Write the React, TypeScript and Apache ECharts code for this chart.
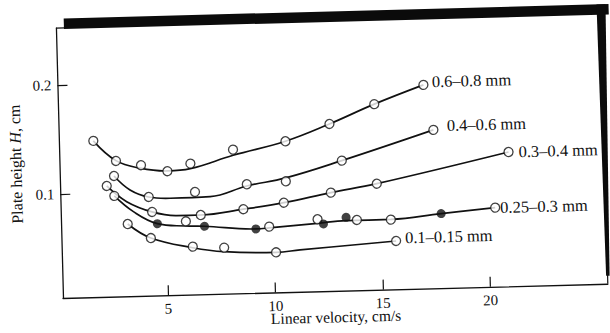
import React, { useEffect, useRef } from "react";
import * as echarts from "echarts";

// Axis ticks
const xTicks = [5, 10, 15, 20];
const yTicks = [0.1, 0.2];

// Particle-size series (labels)
const seriesNames = ["0.6–0.8 mm", "0.4–0.6 mm", "0.3–0.4 mm", "0.25–0.3 mm", "0.1–0.15 mm"];

// 0.6–0.8 mm
const open1 = [[1.71, 0.148], [2.74, 0.129], [3.9, 0.1245], [5.12, 0.1184], [6.2, 0.1248], [8.2, 0.1366], [10.65, 0.143], [12.72, 0.1578], [14.83, 0.1749], [17.14, 0.1914]];
const curve1 = [[1.71, 0.148], [2.74, 0.1293], [3.85, 0.1218], [5.12, 0.1186], [6.19, 0.1202], [8.2, 0.1314], [10.65, 0.143], [12.72, 0.1578], [14.83, 0.1749], [17.14, 0.1914]];

// 0.4–0.6 mm
const open2 = [[2.63, 0.1153], [4.22, 0.0952], [6.38, 0.0987], [8.8, 0.1045], [10.62, 0.1063], [13.25, 0.1239], [17.55, 0.1499]];
const curve2 = [[2.63, 0.1153], [3.36, 0.1021], [4.22, 0.0952], [5.21, 0.0935], [7.08, 0.094], [8.8, 0.1029], [10.62, 0.1094], [13.25, 0.1239], [17.55, 0.1499]];

// 0.3–0.4 mm
const open3 = [[2.28, 0.1063], [4.36, 0.0814], [6.62, 0.0774], [8.61, 0.0817], [10.5, 0.0867], [12.7, 0.0948], [14.85, 0.1019], [21.02, 0.1278]];
const curve3 = [[2.28, 0.1063], [3.19, 0.0914], [4.36, 0.0814], [5.51, 0.0774], [6.62, 0.0774], [8.61, 0.0817], [10.5, 0.0867], [12.7, 0.0948], [14.85, 0.1019], [21.02, 0.1278]];

// 0.25–0.3 mm (open and filled points)
const open4 = [[2.62, 0.097], [5.92, 0.072], [9.79, 0.0651], [12.05, 0.0707], [13.88, 0.0691], [15.46, 0.0686], [20.33, 0.0771]];
const filled4 = [[4.59, 0.0705], [6.78, 0.067], [9.17, 0.0633], [12.32, 0.0663], [13.38, 0.0718], [17.81, 0.0729]];
const curve4 = [[2.62, 0.097], [3.49, 0.0821], [4.59, 0.0705], [5.91, 0.0677], [6.78, 0.067], [9.17, 0.0633], [9.78, 0.0639], [12.04, 0.067], [13.38, 0.0687], [15.46, 0.0688], [17.81, 0.0729], [20.33, 0.0771]];

// 0.1–0.15 mm
const open5 = [[3.21, 0.0709], [4.27, 0.0575], [6.21, 0.0486], [7.67, 0.0469], [10.08, 0.0414], [15.68, 0.0489]];
const curve5 = [[3.21, 0.0709], [4.27, 0.0575], [6.21, 0.0476], [7.66, 0.0432], [10.08, 0.0414], [11.2, 0.043], [15.68, 0.0489]];

const curves = [curve1, curve2, curve3, curve4, curve5];
const openSets = [open1, open2, open3, open4, open5];
const labelDistance = [8.5, 13.5, 10, 5, 9];
const labelOffsetY = [-3, -4, 0, 0, -3];

const FONT = "'Liberation Serif', 'Times New Roman', serif";
const INK = "#111";

export default function App() {
  const ref = useRef<HTMLDivElement>(null);

  useEffect(() => {
    if (!ref.current) return;
    const chart = echarts.init(ref.current, null, { renderer: "svg" });

    const lineSeries = curves.map((c, i) => ({
      type: "line",
      name: seriesNames[i],
      data: c,
      smooth: 0.4,
      symbol: "none",
      lineStyle: { color: INK, width: 1.7 },
      z: 2,
      silent: true,
      endLabel: {
        show: true,
        formatter: () => seriesNames[i],
        distance: labelDistance[i],
        offset: [0, labelOffsetY[i]],
        fontFamily: FONT,
        fontSize: 16.5,
        color: INK,
      },
    }));

    const openSeries = openSets.map((d, i) => ({
      type: "scatter",
      name: seriesNames[i] + " open",
      data: d,
      symbol: "circle",
      symbolSize: 9,
      itemStyle: { color: "#fff", borderColor: INK, borderWidth: 1.3 },
      z: 3,
    }));

    const filledSeries = {
      type: "scatter",
      name: seriesNames[3] + " filled",
      data: filled4,
      symbol: "circle",
      symbolSize: 9,
      itemStyle: { color: INK },
      z: 4,
    };

    chart.setOption({
      animation: false,
      backgroundColor: "#fff",
      grid: { left: 63, top: 28, width: 545, height: 270 },
      xAxis: {
        type: "value",
        min: 0.108,
        max: 25.48,
        name: "Linear velocity, cm/s",
        nameLocation: "middle",
        nameGap: 18,
        nameMoveOverlap: false,
        nameTextStyle: { fontFamily: FONT, fontSize: 15.5, color: INK, verticalAlign: "top", lineHeight: 16 },
        axisLine: { show: true, lineStyle: { color: INK, width: 1.3 } },
        axisTick: { show: true, inside: true, length: 10, customValues: xTicks, lineStyle: { color: INK, width: 1.2 } },
        axisLabel: { customValues: xTicks, margin: 6, fontFamily: FONT, fontSize: 15, color: INK },
        splitLine: { show: false },
      },
      yAxis: {
        type: "value",
        min: 0.0046,
        max: 0.2523,
        name: "Plate height {i|H}, cm",
        nameLocation: "middle",
        nameGap: 30,
        nameTextStyle: {
          fontFamily: FONT,
          fontSize: 16,
          color: INK,
          rich: { i: { fontStyle: "italic", fontFamily: FONT, fontSize: 16, color: INK } },
        },
        axisLine: { show: true, lineStyle: { color: INK, width: 1.3 } },
        axisTick: { show: true, inside: true, length: 10, customValues: yTicks, lineStyle: { color: INK, width: 1.2 } },
        axisLabel: { customValues: yTicks, margin: 6, fontFamily: FONT, fontSize: 15, color: INK },
        splitLine: { show: false },
      },
      graphic: [
        { type: "line", shape: { x1: 63, y1: 28, x2: 72, y2: 28 }, style: { stroke: INK, lineWidth: 1.3 } },
        { type: "rect", shape: { x: 71, y: 18.5, width: 545, height: 10.5 }, style: { fill: "#0b0b0b" } },
        { type: "polygon", shape: { points: [[604, 18.5], [613, 18.5], [610, 290], [606.5, 290]] }, style: { fill: "#0b0b0b" } },
        { type: "line", shape: { x1: 608, y1: 285, x2: 608, y2: 298 }, style: { stroke: INK, lineWidth: 1.2 } },
      ],
      series: [...lineSeries, ...openSeries, filledSeries],
    });

    return () => chart.dispose();
  }, []);

  return (
    <div
      style={{
        position: "fixed",
        left: 0,
        top: 0,
        width: 610,
        height: 333,
        overflow: "hidden",
        background: "#fff",
      }}
    >
      <div
        ref={ref}
        style={{
          width: 625,
          height: 360,
          transform: "rotate(-1.5deg)",
          transformOrigin: "63px 298px",
        }}
      />
    </div>
  );
}
